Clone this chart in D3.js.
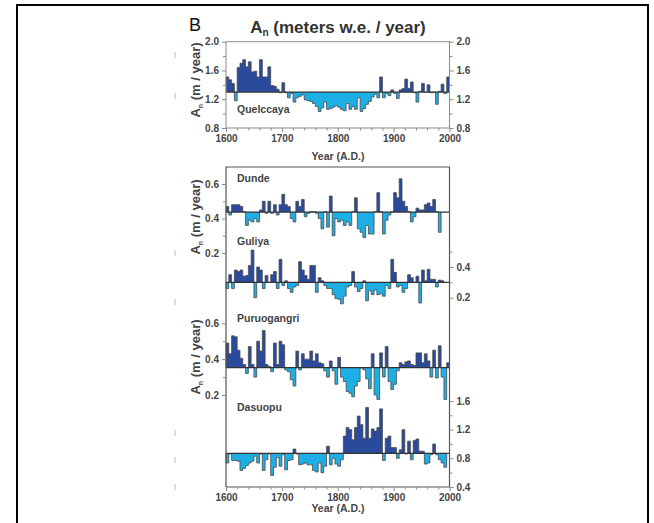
<!DOCTYPE html>
<html><head><meta charset="utf-8">
<script src="https://cdn.jsdelivr.net/npm/d3@7"></script>
<style>
html,body{margin:0;padding:0;background:#fff;}
svg{display:block;}
text{font-family:"Liberation Sans",Arial,sans-serif;}
</style></head>
<body>
<svg id="c" width="654" height="523"></svg>
<script>
// ---------------- DATA ----------------
const startYear = 1600, binYears = 5;
const xTicks = [1600, 1700, 1800, 1900, 2000];
const xMinorTicks = [1620,1640,1660,1680,1720,1740,1760,1780,1820,1840,1860,1880,1920,1940,1960,1980];

const quelccaya = [1.51,1.47,1.42,1.18,1.64,1.70,1.75,1.65,1.72,1.58,1.59,1.51,1.75,1.51,1.51,1.65,1.39,1.38,1.34,1.29,
  1.43,1.29,1.22,1.28,1.16,1.22,1.24,1.26,1.19,1.18,1.17,1.14,1.10,1.03,1.08,1.16,1.06,1.07,1.09,1.11,
  1.09,1.06,1.04,1.14,1.06,1.10,1.06,1.22,1.03,1.07,1.13,1.17,1.23,1.27,1.22,1.51,1.22,1.28,1.25,1.33,
  1.28,1.21,1.33,1.35,1.48,1.35,1.44,1.29,1.16,1.31,1.42,1.30,1.40,1.29,1.30,1.13,1.31,1.41,1.28,1.51];
const quelBase = 1.3;
const quelTicks = [0.8, 1.2, 1.6, 2.0];
const quelMinor = [1.0, 1.4, 1.8];

const dunde = [0.47,0.42,0.48,0.48,0.48,0.47,0.44,0.36,0.39,0.38,0.40,0.38,0.45,0.50,0.43,0.50,0.43,0.48,0.42,0.48,
  0.54,0.48,0.47,0.40,0.38,0.50,0.47,0.51,0.41,0.43,0.44,0.44,0.43,0.40,0.34,0.44,0.35,0.53,0.30,0.40,
  0.38,0.39,0.36,0.38,0.36,0.44,0.52,0.34,0.32,0.29,0.36,0.31,0.31,0.44,0.55,0.44,0.31,0.39,0.42,0.44,
  0.55,0.52,0.63,0.50,0.47,0.44,0.38,0.41,0.46,0.45,0.45,0.48,0.49,0.47,0.51,0.44,0.32];
const dundeBase = 0.437;
const dundeTicks = [0.2, 0.4, 0.6];
const dundeMinor = [0.3, 0.5];

const guliya = [0.26,0.35,0.26,0.38,0.37,0.38,0.34,0.345,0.41,0.51,0.20,0.40,0.38,0.26,0.345,0.30,0.35,0.37,0.26,0.45,
  0.28,0.31,0.26,0.235,0.27,0.28,0.435,0.38,0.345,0.32,0.41,0.41,0.235,0.33,0.31,0.28,0.26,0.26,0.22,0.195,
  0.19,0.16,0.21,0.27,0.28,0.37,0.27,0.24,0.26,0.31,0.18,0.245,0.22,0.25,0.22,0.225,0.21,0.28,0.26,0.45,
  0.365,0.27,0.28,0.235,0.26,0.35,0.33,0.30,0.34,0.165,0.38,0.31,0.385,0.32,0.32,0.27,0.315,0.31];
const guliyaBase = 0.3;
const guliyaTicks = [0.2, 0.4];
const guliyaMinor = [0.3, 0.5];

const puruogangri = [0.49,0.43,0.53,0.525,0.45,0.405,0.37,0.32,0.47,0.37,0.30,0.50,0.445,0.56,0.37,0.36,0.33,0.49,0.37,0.50,
  0.48,0.34,0.33,0.285,0.25,0.445,0.34,0.43,0.40,0.40,0.445,0.39,0.43,0.38,0.375,0.335,0.30,0.39,0.335,0.26,
  0.41,0.30,0.275,0.22,0.21,0.19,0.25,0.275,0.35,0.34,0.29,0.235,0.43,0.20,0.175,0.435,0.30,0.47,0.275,0.23,
  0.26,0.335,0.38,0.37,0.385,0.39,0.37,0.365,0.435,0.435,0.38,0.43,0.39,0.30,0.45,0.295,0.475,0.30,0.175,0.38];
const puruBase = 0.353;
const puruTicks = [0.2, 0.4, 0.6];
const puruMinor = [0.3, 0.5];

const dasuopu = [0.735,0.86,0.77,0.77,0.76,0.63,0.66,0.70,0.735,0.76,0.83,0.735,0.86,0.63,0.78,0.86,0.56,0.675,0.81,0.69,
  0.85,0.64,0.77,0.78,0.93,0.86,0.71,0.72,0.735,0.71,0.71,0.63,0.61,0.735,0.60,0.69,0.97,0.71,0.80,0.72,
  0.69,0.78,1.11,1.23,1.20,1.06,1.23,1.39,1.27,1.08,1.51,1.08,1.21,1.18,1.23,1.49,0.77,1.08,1.11,0.95,
  0.95,0.80,0.92,1.20,0.86,1.04,0.78,1.05,1.07,0.90,0.90,0.72,0.735,0.85,1.00,0.85,0.78,0.735,0.675];
const dasuBase = 0.87;
const dasuTicks = [0.4, 0.8, 1.2, 1.6];
const dasuMinor = [0.6, 1.0, 1.4];

// ---------------- DRAW ----------------
const svg = d3.select("#c");
const DARK = "#2a4b9b", LIGHT = "#1eaee6", OUT = "#4a4a4a", AX = "#8a8a8a", TXT = "#444";
const fmt = d3.format(".1f");

// outer frame
svg.append("path").attr("d","M17,530 V5 H648 V530").attr("fill","none").attr("stroke","#000").attr("stroke-width",2);

const x = d3.scaleLinear().domain([1600, 2000]).range([226, 449.5]);

// little stray marks at left
[55, 96, 253, 302, 433, 460, 487].forEach(yy => {
  svg.append("line").attr("x1",175).attr("x2",175).attr("y1",yy-3).attr("y2",yy+3).attr("stroke","#bbb").attr("stroke-width",1);
});

let clipId = 0;
function series(vals, y, base, top, bottom) {
  const pts = vals.map((v, i) => [startYear + i * binYears, v]);
  const end = startYear + vals.length * binYears;
  const full = [[startYear, base], ...pts, [end, vals[vals.length - 1]], [end, base]];
  const area = d3.area().curve(d3.curveStepAfter).x(d => x(d[0])).y0(y(base)).y1(d => y(d[1]));
  const line = d3.line().curve(d3.curveStepAfter).x(d => x(d[0])).y(d => y(d[1]));
  const yb = y(base);
  const ca = "ca" + (clipId++), cb = "cb" + (clipId++);
  const defs = svg.append("defs");
  defs.append("clipPath").attr("id", ca).append("rect").attr("x", 220).attr("width", 240).attr("y", top).attr("height", yb - top);
  defs.append("clipPath").attr("id", cb).append("rect").attr("x", 220).attr("width", 240).attr("y", yb).attr("height", bottom - yb);
  svg.append("path").datum(full).attr("d", area).attr("fill", DARK).attr("clip-path", `url(#${ca})`);
  svg.append("path").datum(full).attr("d", area).attr("fill", LIGHT).attr("clip-path", `url(#${cb})`);
  svg.append("path").datum(full).attr("d", line).attr("fill", "none").attr("stroke", OUT).attr("stroke-width", 0.8);
  svg.append("line").attr("x1", x(1600)).attr("x2", x(2000)).attr("y1", yb).attr("y2", yb).attr("stroke", "#333").attr("stroke-width", 1.2);
}

function styleAxis(g) {
  g.select(".domain").remove();
  g.selectAll(".tick line").attr("stroke", AX);
  g.selectAll(".tick text").attr("fill", TXT).attr("font-size", 10).attr("font-weight", "bold").attr("font-family", '"Liberation Sans",Arial,sans-serif');
}
function yAxis(scale, ticks, minor, side, xpos) {
  const mk = side === "left" ? d3.axisLeft : d3.axisRight;
  const g = svg.append("g").attr("transform", `translate(${xpos},0)`).call(mk(scale).tickValues(ticks).tickFormat(fmt).tickSize(4).tickPadding(3));
  styleAxis(g);
  const g2 = svg.append("g").attr("transform", `translate(${xpos},0)`).call(mk(scale).tickValues(minor).tickFormat("").tickSize(3));
  styleAxis(g2);
}
function xAxis(ypos) {
  const g = svg.append("g").attr("transform", `translate(0,${ypos})`).call(d3.axisBottom(x).tickValues(xTicks).tickFormat(d3.format("d")).tickSize(4).tickPadding(3));
  styleAxis(g);
  const g2 = svg.append("g").attr("transform", `translate(0,${ypos})`).call(d3.axisBottom(x).tickValues(xMinorTicks).tickFormat("").tickSize(2.5));
  styleAxis(g2);
}

// ---- top panel (Quelccaya)
const yQ = d3.scaleLinear().domain([0.8, 2.0]).range([128, 41.7]);
series(quelccaya, yQ, quelBase, 41.7, 128);
svg.append("rect").attr("x", 226).attr("y", 41.7).attr("width", 223.5).attr("height", 128 - 41.7).attr("fill", "none").attr("stroke", AX).attr("stroke-width", 1);
yAxis(yQ, quelTicks, quelMinor, "left", 226);
yAxis(yQ, quelTicks, quelMinor, "right", 449.5);
xAxis(128);

// ---- bottom panel
const yD = d3.scaleLinear().domain([0.2, 0.6]).range([253, 184]);
const yG = d3.scaleLinear().domain([0.2, 0.4]).range([297.7, 267]);
const yP = d3.scaleLinear().domain([0.2, 0.6]).range([395, 323.3]);
const yS = d3.scaleLinear().domain([0.4, 1.6]).range([487, 401]);
series(dunde, yD, dundeBase, 168, 250);
series(guliya, yG, guliyaBase, 250, 320);
series(puruogangri, yP, puruBase, 320, 405);
series(dasuopu, yS, dasuBase, 405, 487);

svg.append("path").attr("d", `M226,487 V167 H449.5 V487 H226`).attr("fill", "none").attr("stroke", "#555").attr("stroke-width", 1.2);
yAxis(yD, dundeTicks, dundeMinor, "left", 226);
yAxis(yP, puruTicks, puruMinor, "left", 226);
yAxis(yG, guliyaTicks, guliyaMinor, "right", 449.5);
yAxis(yS, dasuTicks, dasuMinor, "right", 449.5);
xAxis(487);

// ---- texts
function label(t, xx, yy, size, weight, anchor, fill) {
  return svg.append("text").attr("x", xx).attr("y", yy).attr("font-size", size).attr("font-weight", weight || "bold")
    .attr("text-anchor", anchor || "start").attr("fill", fill || TXT).text(t);
}
label("B", 189, 31, 18, "normal", "start", "#111");
const title = svg.append("text").attr("x", 338).attr("y", 33).attr("text-anchor", "middle").attr("font-size", 17).attr("font-weight", "bold").attr("fill", "#333");
title.append("tspan").text("A");
title.append("tspan").attr("font-size", 10).attr("dy", 3).text("n");
title.append("tspan").attr("dy", -3).text(" (meters w.e. / year)");

label("Quelccaya", 237, 113, 10.5);
label("Dunde", 237, 182, 10.5);
label("Guliya", 237, 245, 10.5);
label("Puruogangri", 237, 322, 10.5);
label("Dasuopu", 237, 411, 10.5);

label("Year (A.D.)", 338, 160, 10.5, "bold", "middle");
label("Year (A.D.)", 338, 512, 10.5, "bold", "middle");

function ylab(cy) {
  const t = svg.append("text").attr("transform", `translate(200,${cy}) rotate(-90)`).attr("text-anchor", "middle")
    .attr("font-size", 13).attr("font-weight", "bold").attr("fill", TXT);
  t.append("tspan").text("A");
  t.append("tspan").attr("font-size", 7).attr("dy", 3).text("n");
  t.append("tspan").attr("dy", -3).text(" (m / year)");
}
ylab(80);
ylab(217);
ylab(357);
</script>
</body></html>
